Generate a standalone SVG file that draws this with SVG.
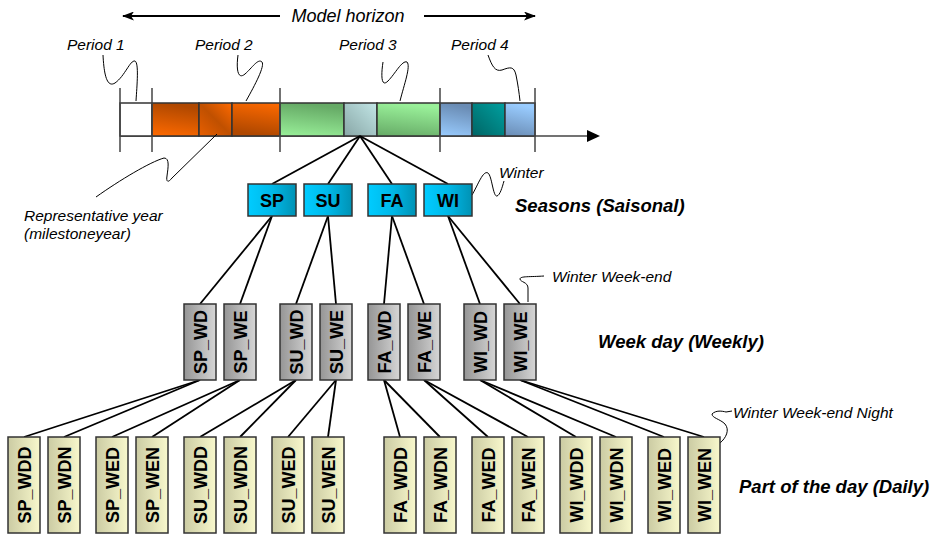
<svg xmlns="http://www.w3.org/2000/svg" width="935" height="536" viewBox="0 0 935 536">
<defs>
<style>
text{font-family:"Liberation Sans",Arial,Helvetica,sans-serif;fill:#000}
.note{font-size:15.5px;font-style:italic}
.title{font-size:18.5px;font-style:italic;font-weight:bold}
.big{font-size:18px;font-style:italic}
.lbl{font-size:18px;font-weight:bold;text-anchor:middle}
.box{stroke:#333;stroke-width:1.5}
.sea{fill:url(#gCyan)}
.wk{fill:url(#gGray)}
.day{fill:url(#gKhaki)}
.con line{stroke:#000;stroke-width:1.8}
.call{fill:none;stroke:#000;stroke-width:1}
.tick{stroke:#444;stroke-width:1.5}
.arr{stroke:#000;stroke-width:2;fill:none}
</style>
<linearGradient id="gCyan" x1="0" y1="0" x2="1" y2="0"><stop offset="0" stop-color="#00ccff"/><stop offset="0.5" stop-color="#00b8e8"/><stop offset="1" stop-color="#0092b4"/></linearGradient>
<linearGradient id="gGray" x1="0" y1="0" x2="1" y2="0"><stop offset="0" stop-color="#959595"/><stop offset="1" stop-color="#d6d6d6"/></linearGradient>
<linearGradient id="gKhaki" x1="0" y1="0" x2="1" y2="0"><stop offset="0" stop-color="#cbcba3"/><stop offset="1" stop-color="#f8f8cc"/></linearGradient>
<linearGradient id="gOr1" x1="0.2" y1="0" x2="0" y2="1"><stop offset="0" stop-color="#b04800"/><stop offset="1" stop-color="#ff6a00"/></linearGradient>
<linearGradient id="gOr2" x1="1" y1="0" x2="0" y2="1"><stop offset="0" stop-color="#ff6a00"/><stop offset="0.5" stop-color="#c05000"/><stop offset="1" stop-color="#e85f00"/></linearGradient>
<linearGradient id="gOr3" x1="1" y1="0" x2="0.8" y2="1"><stop offset="0" stop-color="#ff6a00"/><stop offset="1" stop-color="#b04800"/></linearGradient>
<linearGradient id="gGr1" x1="0.2" y1="0" x2="0" y2="1"><stop offset="0" stop-color="#66aa66"/><stop offset="1" stop-color="#99f099"/></linearGradient>
<linearGradient id="gGrM" x1="0" y1="1" x2="1" y2="0"><stop offset="0" stop-color="#88a6a6"/><stop offset="1" stop-color="#c2e6e6"/></linearGradient>
<linearGradient id="gGr3" x1="0.2" y1="0" x2="0" y2="1"><stop offset="0" stop-color="#99f099"/><stop offset="1" stop-color="#66aa66"/></linearGradient>
<linearGradient id="gBl1" x1="0.2" y1="0" x2="0" y2="1"><stop offset="0" stop-color="#6a8cb4"/><stop offset="1" stop-color="#99ccff"/></linearGradient>
<linearGradient id="gTeal" x1="0" y1="1" x2="1" y2="0"><stop offset="0" stop-color="#006464"/><stop offset="1" stop-color="#00a0a0"/></linearGradient>
<linearGradient id="gBl3" x1="0.2" y1="0" x2="0" y2="1"><stop offset="0" stop-color="#99ccff"/><stop offset="1" stop-color="#6a8cb4"/></linearGradient>
<marker id="ah" markerWidth="12" markerHeight="9" refX="11" refY="4.5" orient="auto" markerUnits="userSpaceOnUse"><path d="M0,0 L12,4.5 L0,9 L3,4.5 Z" fill="#000"/></marker>
</defs>
<rect width="935" height="536" fill="#fff"/>

<!-- model horizon -->
<g id="horizon">
<line class="arr" x1="280" y1="16" x2="123" y2="16" marker-end="url(#ah)"/>
<line class="arr" x1="424" y1="16" x2="535" y2="16" marker-end="url(#ah)"/>
<text class="big" x="348" y="22" text-anchor="middle">Model horizon</text>
</g>

<!-- timeline -->
<g id="timeline">
<line class="tick" x1="120" y1="136" x2="590" y2="136"/>
<path d="M587,130 L600,136 L587,142 Z" fill="#000"/>
<rect class="box" x="120" y="103" width="32" height="33" fill="#fff"/>
<rect class="box" x="152" y="103" width="47" height="33" fill="url(#gOr1)"/>
<rect class="box" x="199" y="103" width="33" height="33" fill="url(#gOr2)"/>
<rect class="box" x="232" y="103" width="48" height="33" fill="url(#gOr3)"/>
<rect class="box" x="280" y="103" width="64" height="33" fill="url(#gGr1)"/>
<rect class="box" x="344" y="103" width="33" height="33" fill="url(#gGrM)"/>
<rect class="box" x="377" y="103" width="63" height="33" fill="url(#gGr3)"/>
<rect class="box" x="440" y="103" width="32" height="33" fill="url(#gBl1)"/>
<rect class="box" x="472" y="103" width="33" height="33" fill="url(#gTeal)"/>
<rect class="box" x="505" y="103" width="30" height="33" fill="url(#gBl3)"/>
<line class="tick" x1="120" y1="88" x2="120" y2="152"/>
<line class="tick" x1="152" y1="88" x2="152" y2="152"/>
<line class="tick" x1="280" y1="88" x2="280" y2="152"/>
<line class="tick" x1="440" y1="88" x2="440" y2="152"/>
<line class="tick" x1="535" y1="88" x2="535" y2="152"/>
</g>

<!-- annotations -->
<g id="annotations">
<text class="note" x="67" y="50">Period 1</text>
<text class="note" x="195" y="50">Period 2</text>
<text class="note" x="339" y="50">Period 3</text>
<text class="note" x="451" y="50">Period 4</text>
<path class="call" d="M103,55 C104,75 107,88 115,83 C125,76 130,60 135,61 C139,63 137,85 136,101"/>
<path class="call" d="M238,55 C236,70 238,80 245,74 C252,68 258,58 262,62 C265,66 255,85 246,101"/>
<path class="call" d="M383,62 C381,75 381,88 388,81 C395,74 402,60 407,62 C411,66 404,85 400,101"/>
<path class="call" d="M488,55 C492,66 495,72 502,70 C510,67 514,66 516,75 C518,85 519,92 520,101"/>
<path class="call" d="M217,134 L172,178 C168,183 166,182 167,176 C168,168 170,158 164,158 C150,162 120,180 96,197"/>
<text class="note" x="24" y="221">Representative year</text>
<text class="note" x="24" y="239">(milestoneyear)</text>
<path class="call" d="M472,195 C478,185 483,170 488,173 C492,176 493,197 497,196 C500,195 502,188 504,181"/>
<text class="note" x="499" y="178">Winter</text>
<text class="title" x="515" y="212">Seasons (Saisonal)</text>
<path class="call" d="M528,302 L528,288 C528,282 520,282 520,279 C520,276 530,277 544,276"/>
<text class="note" x="552" y="282">Winter Week-end</text>
<text class="title" x="598" y="348">Week day (Weekly)</text>
<path class="call" d="M720,443 C726,438 730,430 725,424 C720,419 712,418 712,414 C716,410 722,411 726,412 C728,412 730,411 732,411"/>
<text class="note" x="733" y="418">Winter Week-end Night</text>
<text class="title" x="739" y="493">Part of the day (Daily)</text>
</g>

<!-- connectors -->
<g id="connectors" class="con">
<line x1="360" y1="136" x2="272" y2="184"/>
<line x1="360" y1="136" x2="328" y2="184"/>
<line x1="360" y1="136" x2="392" y2="184"/>
<line x1="360" y1="136" x2="448" y2="184"/>
<line x1="272" y1="216" x2="200" y2="304"/>
<line x1="272" y1="216" x2="240" y2="304"/>
<line x1="328" y1="216" x2="296" y2="304"/>
<line x1="328" y1="216" x2="336" y2="304"/>
<line x1="392" y1="216" x2="384" y2="304"/>
<line x1="392" y1="216" x2="424" y2="304"/>
<line x1="448" y1="216" x2="480" y2="304"/>
<line x1="448" y1="216" x2="520" y2="304"/>
<line x1="200" y1="380" x2="24" y2="437"/>
<line x1="200" y1="380" x2="64" y2="437"/>
<line x1="240" y1="380" x2="112" y2="437"/>
<line x1="240" y1="380" x2="152" y2="437"/>
<line x1="296" y1="380" x2="200" y2="437"/>
<line x1="296" y1="380" x2="240" y2="437"/>
<line x1="336" y1="380" x2="288" y2="437"/>
<line x1="336" y1="380" x2="328" y2="437"/>
<line x1="384" y1="380" x2="400" y2="437"/>
<line x1="384" y1="380" x2="440" y2="437"/>
<line x1="424" y1="380" x2="488" y2="437"/>
<line x1="424" y1="380" x2="528" y2="437"/>
<line x1="480" y1="380" x2="576" y2="437"/>
<line x1="480" y1="380" x2="616" y2="437"/>
<line x1="520" y1="380" x2="664" y2="437"/>
<line x1="520" y1="380" x2="704" y2="437"/>
</g>

<!-- seasons -->
<g id="SP"><rect class="box sea" x="248" y="184" width="48" height="32"/><text class="lbl" x="272" y="206.5">SP</text></g>
<g id="SU"><rect class="box sea" x="304" y="184" width="48" height="32"/><text class="lbl" x="328" y="206.5">SU</text></g>
<g id="FA"><rect class="box sea" x="368" y="184" width="48" height="32"/><text class="lbl" x="392" y="206.5">FA</text></g>
<g id="WI"><rect class="box sea" x="424" y="184" width="48" height="32"/><text class="lbl" x="448" y="206.5">WI</text></g>

<!-- week days -->
<g id="SP_WD"><rect class="box wk" x="184" y="304" width="32" height="76"/><text class="lbl" x="200" y="348.5" transform="rotate(-90 200 342)">SP_WD</text></g>
<g id="SP_WE"><rect class="box wk" x="224" y="304" width="32" height="76"/><text class="lbl" x="240" y="348.5" transform="rotate(-90 240 342)">SP_WE</text></g>
<g id="SU_WD"><rect class="box wk" x="280" y="304" width="32" height="76"/><text class="lbl" x="296" y="348.5" transform="rotate(-90 296 342)">SU_WD</text></g>
<g id="SU_WE"><rect class="box wk" x="320" y="304" width="32" height="76"/><text class="lbl" x="336" y="348.5" transform="rotate(-90 336 342)">SU_WE</text></g>
<g id="FA_WD"><rect class="box wk" x="368" y="304" width="32" height="76"/><text class="lbl" x="384" y="348.5" transform="rotate(-90 384 342)">FA_WD</text></g>
<g id="FA_WE"><rect class="box wk" x="408" y="304" width="32" height="76"/><text class="lbl" x="424" y="348.5" transform="rotate(-90 424 342)">FA_WE</text></g>
<g id="WI_WD"><rect class="box wk" x="464" y="304" width="32" height="76"/><text class="lbl" x="480" y="348.5" transform="rotate(-90 480 342)">WI_WD</text></g>
<g id="WI_WE"><rect class="box wk" x="504" y="304" width="32" height="76"/><text class="lbl" x="520" y="348.5" transform="rotate(-90 520 342)">WI_WE</text></g>

<!-- parts of day -->
<g id="SP_WDD"><rect class="box day" x="8" y="437" width="32" height="96"/><text class="lbl" x="24" y="491.5" transform="rotate(-90 24 485)">SP_WDD</text></g>
<g id="SP_WDN"><rect class="box day" x="48" y="437" width="32" height="96"/><text class="lbl" x="64" y="491.5" transform="rotate(-90 64 485)">SP_WDN</text></g>
<g id="SP_WED"><rect class="box day" x="96" y="437" width="32" height="96"/><text class="lbl" x="112" y="491.5" transform="rotate(-90 112 485)">SP_WED</text></g>
<g id="SP_WEN"><rect class="box day" x="136" y="437" width="32" height="96"/><text class="lbl" x="152" y="491.5" transform="rotate(-90 152 485)">SP_WEN</text></g>
<g id="SU_WDD"><rect class="box day" x="184" y="437" width="32" height="96"/><text class="lbl" x="200" y="491.5" transform="rotate(-90 200 485)">SU_WDD</text></g>
<g id="SU_WDN"><rect class="box day" x="224" y="437" width="32" height="96"/><text class="lbl" x="240" y="491.5" transform="rotate(-90 240 485)">SU_WDN</text></g>
<g id="SU_WED"><rect class="box day" x="272" y="437" width="32" height="96"/><text class="lbl" x="288" y="491.5" transform="rotate(-90 288 485)">SU_WED</text></g>
<g id="SU_WEN"><rect class="box day" x="312" y="437" width="32" height="96"/><text class="lbl" x="328" y="491.5" transform="rotate(-90 328 485)">SU_WEN</text></g>
<g id="FA_WDD"><rect class="box day" x="384" y="437" width="32" height="96"/><text class="lbl" x="400" y="491.5" transform="rotate(-90 400 485)">FA_WDD</text></g>
<g id="FA_WDN"><rect class="box day" x="424" y="437" width="32" height="96"/><text class="lbl" x="440" y="491.5" transform="rotate(-90 440 485)">FA_WDN</text></g>
<g id="FA_WED"><rect class="box day" x="472" y="437" width="32" height="96"/><text class="lbl" x="488" y="491.5" transform="rotate(-90 488 485)">FA_WED</text></g>
<g id="FA_WEN"><rect class="box day" x="512" y="437" width="32" height="96"/><text class="lbl" x="528" y="491.5" transform="rotate(-90 528 485)">FA_WEN</text></g>
<g id="WI_WDD"><rect class="box day" x="560" y="437" width="32" height="96"/><text class="lbl" x="576" y="491.5" transform="rotate(-90 576 485)">WI_WDD</text></g>
<g id="WI_WDN"><rect class="box day" x="600" y="437" width="32" height="96"/><text class="lbl" x="616" y="491.5" transform="rotate(-90 616 485)">WI_WDN</text></g>
<g id="WI_WED"><rect class="box day" x="648" y="437" width="32" height="96"/><text class="lbl" x="664" y="491.5" transform="rotate(-90 664 485)">WI_WED</text></g>
<g id="WI_WEN"><rect class="box day" x="688" y="437" width="32" height="96"/><text class="lbl" x="704" y="491.5" transform="rotate(-90 704 485)">WI_WEN</text></g>
</svg>
